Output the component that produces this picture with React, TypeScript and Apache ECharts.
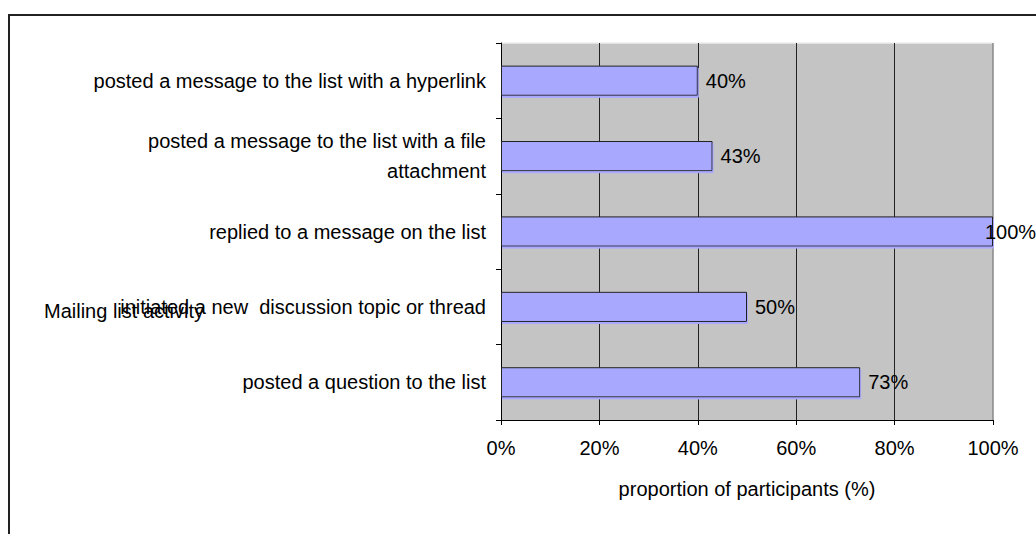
import React, { useEffect, useRef } from "react";
import * as echarts from "echarts";

const categories = [
  "posted a message to the list with a hyperlink",
  "posted a message to the list with a file\nattachment",
  "replied to a message on the list",
  "initiated a new  discussion topic or thread",
  "posted a question to the list",
];
const values = [40, 43, 100, 50, 73];
const xTicks = { min: 0, max: 100, interval: 20 };
const xAxisTitle = "proportion of participants (%)";
const yAxisTitle = "Mailing list activity";

const FONT = "'Liberation Sans', Arial, sans-serif";
const FS = 20;
const W = 1036;
const H = 534;
const GRID = { left: 501, right: 43, top: 43, bottom: 114 };

export default function App() {
  const ref = useRef<HTMLDivElement>(null);
  useEffect(() => {
    if (!ref.current) return;
    const chart = echarts.init(ref.current, undefined, { renderer: "svg" });
    const plotRight = W - GRID.right;
    const plotBottom = H - GRID.bottom;
    chart.setOption({
      animation: false,
      backgroundColor: "#ffffff",
      textStyle: { fontFamily: FONT, color: "#000" },
      grid: {
        left: GRID.left,
        right: GRID.right,
        top: GRID.top,
        bottom: GRID.bottom,
        show: true,
        backgroundColor: "#C4C4C4",
        borderWidth: 0,
      },
      xAxis: {
        type: "value",
        min: xTicks.min,
        max: xTicks.max,
        interval: xTicks.interval,
        name: xAxisTitle,
        nameLocation: "middle",
        nameGap: 59,
        nameTextStyle: { fontSize: FS, color: "#000", fontFamily: FONT },
        axisLine: { show: true, lineStyle: { color: "#000", width: 1 } },
        axisTick: { show: true, length: 5, lineStyle: { color: "#000" } },
        axisLabel: {
          formatter: "{value}%",
          fontSize: FS,
          color: "#000",
          margin: 18,
          fontFamily: FONT,
        },
        splitLine: {
          show: true,
          showMaxLine: false,
          lineStyle: { color: "#222", width: 1 },
        },
      },
      yAxis: {
        type: "category",
        data: categories,
        inverse: true,
        axisLine: { show: true, lineStyle: { color: "#000", width: 1 } },
        axisTick: { show: true, length: 5, lineStyle: { color: "#000" } },
        axisLabel: {
          fontSize: FS,
          color: "#000",
          margin: 15,
          lineHeight: 30,
          fontFamily: FONT,
        },
        splitLine: { show: false },
      },
      graphic: [
        {
          type: "rect",
          shape: { x: 9, y: 15, width: 1200, height: 700 },
          style: { fill: "none", stroke: "#222", lineWidth: 2 },
          silent: true,
        },
        {
          type: "line",
          shape: { x1: GRID.left, y1: GRID.top, x2: plotRight, y2: GRID.top },
          style: { stroke: "#eeeeee", lineWidth: 1.5 },
          silent: true,
        },
        {
          type: "line",
          shape: { x1: plotRight, y1: GRID.top, x2: plotRight, y2: plotBottom },
          style: { stroke: "#888888", lineWidth: 1.5 },
          silent: true,
        },
        {
          type: "text",
          left: 44,
          top: 301,
          style: {
            text: yAxisTitle,
            fontSize: FS,
            fontFamily: FONT,
            fill: "#000",
          },
          silent: true,
        },
      ],
      series: [
        {
          type: "bar",
          data: values.map((v) =>
            v >= 100
              ? { value: v, label: { offset: [-16, 0] } }
              : { value: v }
          ),
          barWidth: "40%",
          itemStyle: {
            color: "#A8A8FF",
            borderColor: "#222",
            borderWidth: 1,
            shadowColor: "#A8A8FF",
            shadowOffsetX: 1,
            shadowOffsetY: 2,
            shadowBlur: 0,
          },
          label: {
            show: true,
            position: "right",
            distance: 8,
            formatter: "{c}%",
            fontSize: FS,
            color: "#000",
            fontFamily: FONT,
          },
          z: 3,
        },
      ],
    });
    return () => chart.dispose();
  }, []);
  return (
    <div
      ref={ref}
      style={{ position: "fixed", left: 0, top: 0, width: W, height: H }}
    />
  );
}
